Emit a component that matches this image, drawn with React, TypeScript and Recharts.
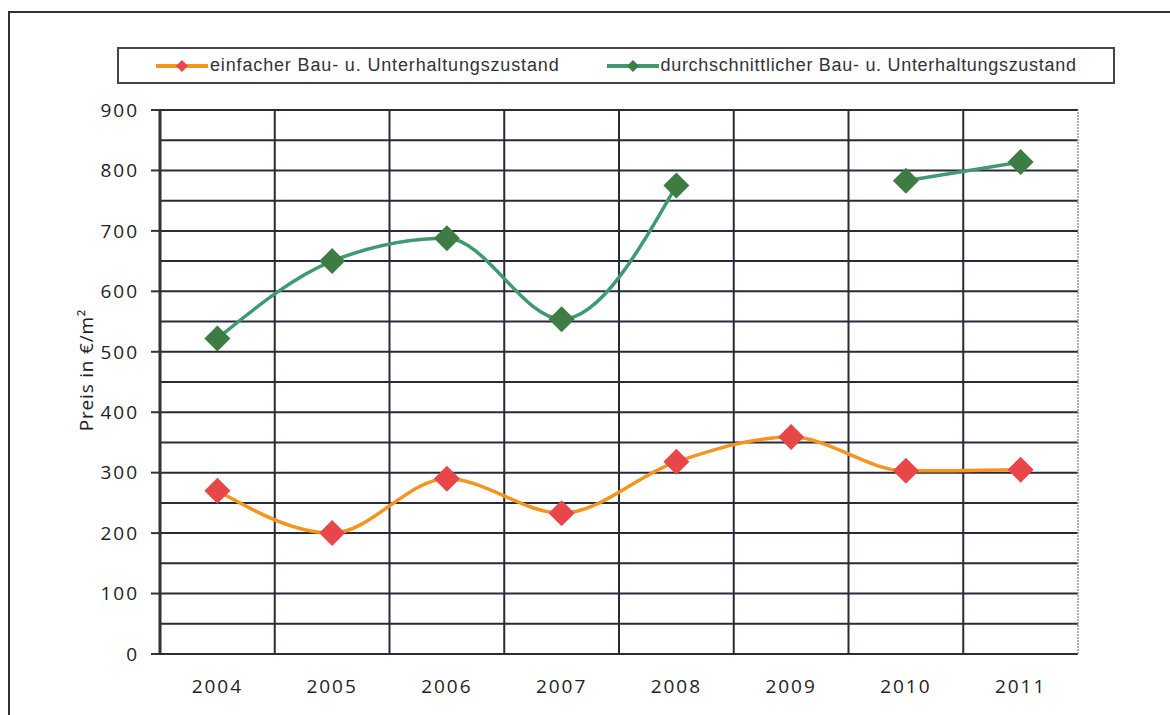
import React from 'react';
import { ComposedChart, Line, XAxis, YAxis, CartesianGrid, Label, ReferenceLine } from 'recharts';

const years = ['2004', '2005', '2006', '2007', '2008', '2009', '2010', '2011'];
const einfach = [270, 200, 290, 233, 318, 359, 303, 305];
const durchschnitt: (number | null)[] = [522, 650, 688, 554, 775, null, 783, 814];
const yTicks = [0, 100, 200, 300, 400, 500, 600, 700, 800, 900];
const gridValues = [0, 50, 100, 150, 200, 250, 300, 350, 400, 450, 500, 550, 600, 650, 700, 750, 800, 850, 900];
const boundaryTicks = [0, 1, 2, 3, 4, 5, 6, 7, 8];

const seriesNames = ['einfacher Bau- u. Unterhaltungszustand', 'durchschnittlicher Bau- u. Unterhaltungszustand'];

const data = years.map((y, i) => ({ year: y, einfach: einfach[i], durchschnitt: durchschnitt[i] }));

const W = 1170;
const H = 715;
const margin = { top: 110, right: 92, bottom: 21, left: 90 };

const Diamond = (fill: string) => (props: any) => {
  const { cx, cy, value, index } = props;
  if (value == null || cx == null || cy == null) return <g key={index} />;
  const r = 13;
  return (
    <polygon
      key={index}
      points={`${cx},${cy - r} ${cx + r},${cy} ${cx},${cy + r} ${cx - r},${cy}`}
      fill={fill}
    />
  );
};

const tickFont = { fontFamily: 'Open Sans', fontSize: 19, fontWeight: 500, fill: '#222', letterSpacing: 2 };

const LegendItem = ({ line, dot, text, spacing }: { line: string; dot: string; text: string; spacing: number }) => (
  <div style={{ display: 'flex', alignItems: 'center' }}>
    <svg width={52} height={14} style={{ marginRight: 2 }}>
      <line x1={0} y1={7} x2={52} y2={7} stroke={line} strokeWidth={4} />
      <polygon points="26,1 32,7 26,13 20,7" fill={dot} />
    </svg>
    <span style={{ fontFamily: 'Liberation Sans', fontSize: 18, color: '#333', letterSpacing: spacing }}>{text}</span>
  </div>
);

export default function App() {
  return (
    <div style={{ position: 'absolute', left: 0, top: 0, width: W, height: H, overflow: 'hidden', background: '#fff' }}>
      <div style={{ position: 'absolute', left: 8, top: 11, width: 1200, height: 800, border: '2px solid #333', boxSizing: 'border-box' }} />
      <div
        style={{
          position: 'absolute', left: 117, top: 47, width: 998, height: 37,
          border: '2px solid #444', boxSizing: 'border-box', background: '#fff',
          display: 'flex', alignItems: 'center', paddingLeft: 37,
        }}
      >
        <LegendItem line="#F7941D" dot="#E8474A" text={seriesNames[0]} spacing={0.85} />
        <div style={{ width: 47 }} />
        <LegendItem line="#3F9A72" dot="#3D7D43" text={seriesNames[1]} spacing={0.7} />
      </div>
      <div style={{ position: 'absolute', left: 0, top: 0 }}>
        <ComposedChart width={W} height={H} data={data} margin={margin}>
          <CartesianGrid
            stroke="#2a2a3a"
            strokeWidth={2}
            horizontalCoordinatesGenerator={({ offset }: any) =>
              gridValues.map((v) => offset.top + offset.height * (1 - v / 900))
            }
            verticalCoordinatesGenerator={({ offset }: any) =>
              boundaryTicks.slice(0, 8).map((b) => offset.left + (offset.width * b) / 8)
            }
          />
          <ReferenceLine xAxisId="b" x={8} stroke="#999" strokeWidth={1.5} strokeDasharray="2 1" />
          <XAxis
            xAxisId="b"
            type="number"
            dataKey={() => 0}
            domain={[0, 8]}
            ticks={boundaryTicks}
            tickFormatter={() => ''}
            height={0}
            tickSize={8}
            axisLine={{ stroke: '#333', strokeWidth: 2 }}
            tickLine={{ stroke: '#333', strokeWidth: 2 }}
          />
          <XAxis
            dataKey="year"
            scale="band"
            height={40}
            axisLine={false}
            tickLine={false}
            tickSize={0}
            tickMargin={26}
            tick={tickFont}
            interval={0}
          />
          <YAxis
            domain={[0, 900]}
            ticks={yTicks}
            width={70}
            tickSize={9}
            tickMargin={12}
            tick={tickFont}
            axisLine={{ stroke: '#333', strokeWidth: 3 }}
            tickLine={{ stroke: '#333', strokeWidth: 2 }}
            interval={0}
          >
            <Label
              content={() => {
                const cx = 86;
                const cy = 370;
                return (
                  <text
                    x={cx}
                    y={cy}
                    transform={`rotate(-90 ${cx} ${cy})`}
                    textAnchor="middle"
                    dominantBaseline="central"
                    style={{ fontFamily: 'Open Sans', fontSize: 19, fontWeight: 500, fill: '#222', letterSpacing: 0.8 }}
                  >
                    Preis in €/m²
                  </text>
                );
              }}
            />
          </YAxis>
          <Line
            type="monotone"
            dataKey="einfach"
            stroke="#F7941D"
            strokeWidth={3.5}
            dot={Diamond('#E8474A')}
            activeDot={false}
            isAnimationActive={false}
          />
          <Line
            type="monotone"
            dataKey="durchschnitt"
            stroke="#3F9A72"
            strokeWidth={3.5}
            dot={Diamond('#3D7D43')}
            activeDot={false}
            connectNulls={false}
            isAnimationActive={false}
          />
        </ComposedChart>
      </div>
    </div>
  );
}
